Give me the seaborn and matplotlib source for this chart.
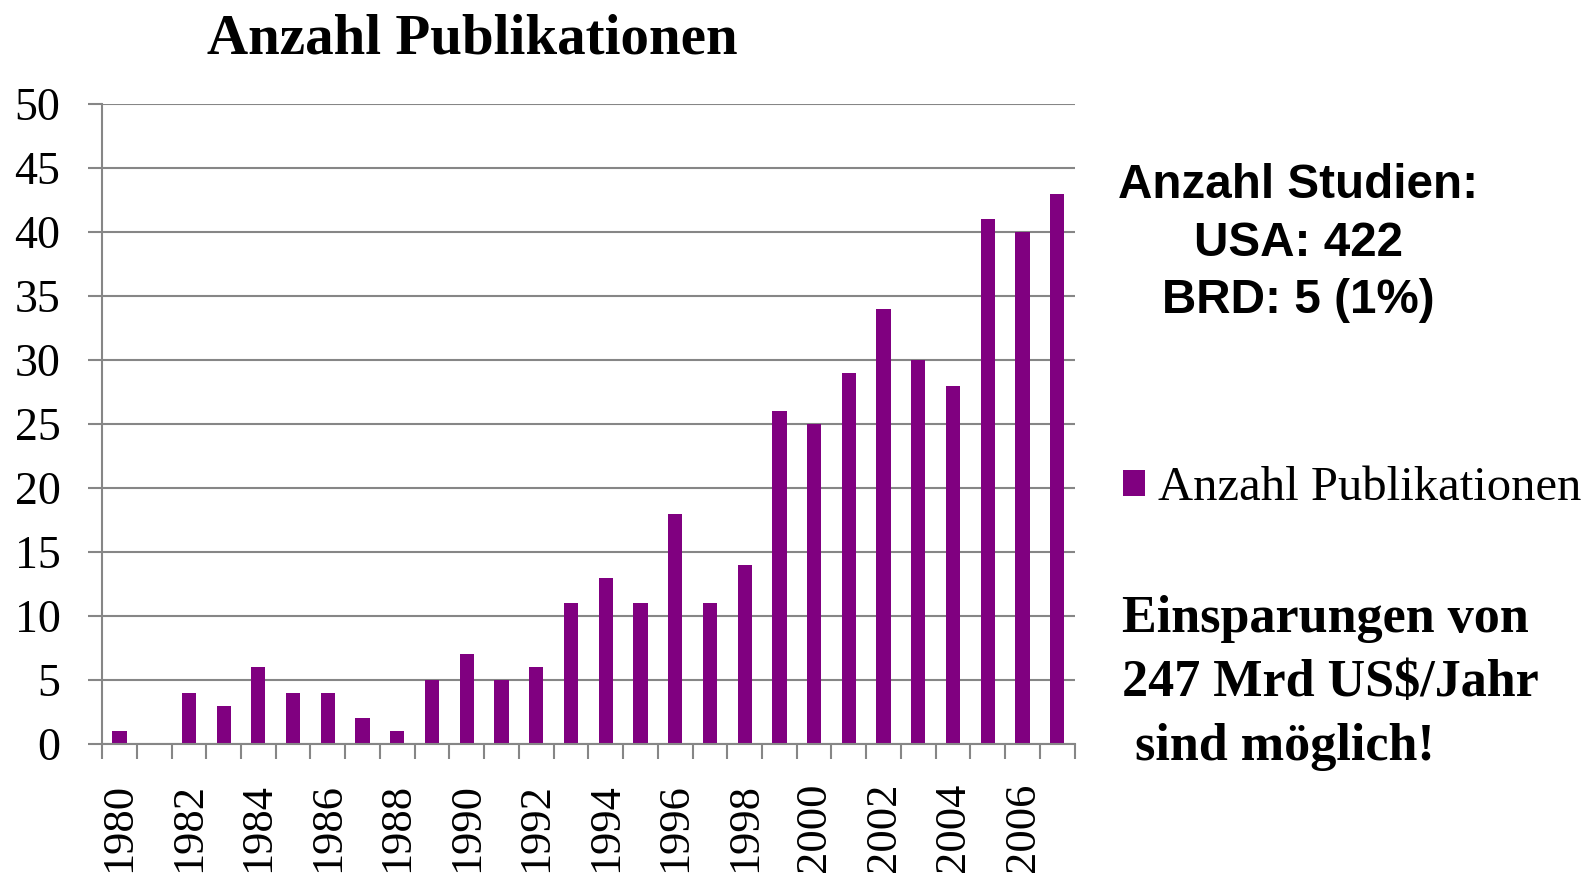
import numpy as np
import matplotlib
matplotlib.use("Agg")
import matplotlib.pyplot as plt
import seaborn as sns

# data
years = [str(y) for y in range(1980, 2008)]
counts = [1, 0, 4, 3, 6, 4, 4, 2, 1, 5, 7, 5, 6, 11, 13, 11, 18, 11, 14,
          26, 25, 29, 34, 30, 28, 41, 40, 43]
yticks = [0, 5, 10, 15, 20, 25, 30, 35, 40, 45, 50]
title = "Anzahl Publikationen"
series_label = "Anzahl Publikationen"
studien_lines = ["Anzahl Studien:", "USA: 422", "BRD: 5 (1%)"]
savings_lines = ["Einsparungen von", "247 Mrd US$/Jahr", " sind möglich!"]

sns.set_theme(style="white")
plt.rcParams['font.family'] = ['Liberation Serif', 'DejaVu Serif']
plt.rcParams['text.color'] = 'black'
plt.rcParams['xtick.labelcolor'] = 'black'
plt.rcParams['ytick.labelcolor'] = 'black'

purple = '#800080'
gray = '#868686'

fig, ax = plt.subplots(figsize=(15.85, 8.82), dpi=100)
fig.subplots_adjust(left=0.0644, right=0.678, bottom=0.1565, top=0.882)

sns.barplot(x=years, y=counts, color=purple, saturation=1, width=0.41,
            linewidth=0, label=series_label, ax=ax)

ax.set_xlim(-0.5, len(years) - 0.5)
ax.set_ylim(0, 50)
ax.set_yticks(yticks)
ax.set_yticklabels([str(v) for v in yticks], fontsize=33)
ax.yaxis.grid(True, color=gray, linewidth=1.5)
ax.set_axisbelow(True)

# labels every second year, tick marks at category boundaries
ax.set_xticks(range(0, len(years), 2))
ax.set_xticklabels(years[::2], rotation=90, fontsize=32)
ax.set_xticks(np.arange(-0.5, len(years), 1), minor=True)
ax.tick_params(axis='x', which='major', length=0, pad=28,
               labelcolor='black')
ax.tick_params(axis='x', which='minor', length=11, width=1.5, color=gray,
               bottom=True)
ax.tick_params(axis='y', length=10, width=1.5, color=gray, pad=20, left=True,
               labelcolor='black')
ax.set_xlabel('')
ax.set_ylabel('')

for side in ['top', 'right']:
    ax.spines[side].set_visible(False)
for side in ['left', 'bottom']:
    ax.spines[side].set_color(gray)
    ax.spines[side].set_linewidth(1.5)

fig.text(0.298, 1 - 53 / 882, title, ha='center', va='baseline',
         fontsize=41, fontweight='bold', color='black')

leg = ax.legend(loc='center left', bbox_to_anchor=(0.7085, 1 - 488 / 882),
                bbox_transform=fig.transFigure, frameon=False, fontsize=35,
                handlelength=0.45, handleheight=0.45, handletextpad=0.27,
                borderpad=0, borderaxespad=0)
for t in leg.get_texts():
    t.set_color('black')

for i, line in enumerate(studien_lines):
    fig.text(1298 / 1585, 1 - (198 + 57.5 * i) / 882, line, ha='center',
             va='baseline', fontsize=34.3, fontweight='bold', color='black',
             family=['Liberation Sans', 'DejaVu Sans'])

for i, line in enumerate(savings_lines):
    fig.text(1122 / 1585, 1 - (632 + 64 * i) / 882, line, ha='left',
             va='baseline', fontsize=37.5, fontweight='bold', color='black')

fig.savefig('out.png', dpi=100)
